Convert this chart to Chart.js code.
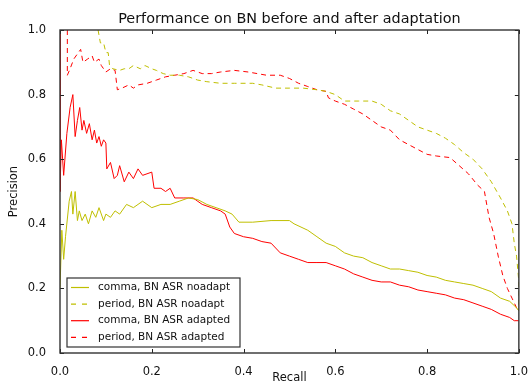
<!DOCTYPE html>
<html>
<head>
<meta charset="utf-8">
<script src="https://cdn.jsdelivr.net/npm/chart.js@4.4.0/dist/chart.umd.min.js"></script>
<style>
  html, body { margin: 0; padding: 0; background: #fff; }
</style>
</head>
<body>
<canvas id="myChart" width="532" height="385"></canvas>
<script>
// chart text
const chartTitle = "Performance on BN before and after adaptation";
const xLabel = "Recall";
const yLabel = "Precision";
const axisTicks = [0, 0.2, 0.4, 0.6, 0.8, 1.0];

// series: [recall, precision] pairs
const commaNoadapt = [
  [0, 0.20], [0.004, 0.38], [0.008, 0.29], [0.012, 0.36], [0.02, 0.47], [0.025, 0.50],
  [0.028, 0.43], [0.033, 0.50], [0.038, 0.41], [0.042, 0.44], [0.048, 0.41], [0.055, 0.43],
  [0.062, 0.40], [0.07, 0.44], [0.078, 0.42], [0.085, 0.45], [0.095, 0.41], [0.1, 0.43],
  [0.11, 0.42], [0.12, 0.44], [0.13, 0.43], [0.145, 0.46], [0.16, 0.45], [0.18, 0.47],
  [0.2, 0.45], [0.22, 0.46], [0.24, 0.46], [0.26, 0.47], [0.28, 0.48], [0.3, 0.475],
  [0.32, 0.46], [0.34, 0.45], [0.36, 0.44], [0.375, 0.43], [0.39, 0.405], [0.42, 0.405],
  [0.46, 0.41], [0.5, 0.41], [0.51, 0.40], [0.54, 0.38], [0.56, 0.36], [0.58, 0.34],
  [0.6, 0.33], [0.62, 0.31], [0.64, 0.30], [0.66, 0.295], [0.68, 0.28], [0.7, 0.27],
  [0.72, 0.26], [0.74, 0.26], [0.76, 0.255], [0.78, 0.25], [0.8, 0.24], [0.82, 0.235],
  [0.84, 0.225], [0.86, 0.22], [0.88, 0.215], [0.9, 0.21], [0.92, 0.20], [0.94, 0.19],
  [0.96, 0.17], [0.98, 0.16], [0.995, 0.14], [1.0, 0.13]
];

const periodNoadapt = [
  [0.083, 1.0], [0.088, 0.96], [0.095, 0.96], [0.1, 0.93], [0.105, 0.93], [0.108, 0.89],
  [0.115, 0.88], [0.13, 0.875], [0.14, 0.88], [0.15, 0.88], [0.16, 0.89], [0.175, 0.88],
  [0.185, 0.89], [0.2, 0.88], [0.21, 0.875], [0.225, 0.865], [0.24, 0.86], [0.26, 0.86],
  [0.28, 0.855], [0.3, 0.845], [0.32, 0.84], [0.35, 0.835], [0.38, 0.835], [0.42, 0.835],
  [0.44, 0.83], [0.47, 0.82], [0.5, 0.82], [0.53, 0.82], [0.56, 0.815], [0.58, 0.81],
  [0.6, 0.80], [0.62, 0.78], [0.65, 0.78], [0.68, 0.78], [0.7, 0.77], [0.72, 0.75],
  [0.74, 0.74], [0.76, 0.72], [0.78, 0.70], [0.8, 0.69], [0.82, 0.68], [0.84, 0.665],
  [0.86, 0.645], [0.88, 0.62], [0.9, 0.60], [0.92, 0.57], [0.94, 0.53], [0.96, 0.48],
  [0.975, 0.44], [0.985, 0.40], [0.99, 0.34], [0.995, 0.30], [1.0, 0.22], [1.0, 0.13]
];

const commaAdapted = [
  [0, 1.0], [0, 0.5], [0.003, 0.66], [0.008, 0.55], [0.015, 0.68], [0.022, 0.76],
  [0.028, 0.80], [0.033, 0.67], [0.038, 0.72], [0.043, 0.76], [0.048, 0.69], [0.052, 0.72],
  [0.058, 0.68], [0.064, 0.71], [0.07, 0.66], [0.075, 0.69], [0.08, 0.65], [0.085, 0.67],
  [0.09, 0.64], [0.095, 0.66], [0.1, 0.65], [0.102, 0.57], [0.11, 0.59], [0.118, 0.54],
  [0.125, 0.55], [0.13, 0.58], [0.14, 0.53], [0.15, 0.56], [0.16, 0.54], [0.17, 0.57],
  [0.18, 0.55], [0.2, 0.56], [0.205, 0.51], [0.22, 0.51], [0.23, 0.50], [0.24, 0.51],
  [0.25, 0.48], [0.27, 0.48], [0.29, 0.48], [0.31, 0.46], [0.33, 0.45], [0.35, 0.44],
  [0.36, 0.43], [0.37, 0.39], [0.38, 0.37], [0.4, 0.36], [0.42, 0.355], [0.44, 0.345],
  [0.46, 0.34], [0.48, 0.31], [0.5, 0.30], [0.52, 0.29], [0.54, 0.28], [0.56, 0.28],
  [0.58, 0.28], [0.6, 0.27], [0.62, 0.26], [0.64, 0.245], [0.66, 0.235], [0.68, 0.225],
  [0.7, 0.22], [0.72, 0.22], [0.74, 0.21], [0.76, 0.205], [0.78, 0.195], [0.8, 0.19],
  [0.82, 0.185], [0.84, 0.18], [0.86, 0.17], [0.88, 0.165], [0.9, 0.155], [0.92, 0.145],
  [0.94, 0.135], [0.96, 0.12], [0.98, 0.11], [0.99, 0.10], [1.0, 0.10]
];

const periodAdapted = [
  [0.016, 1.0], [0.016, 0.86], [0.022, 0.88], [0.03, 0.91], [0.04, 0.93], [0.045, 0.94],
  [0.05, 0.90], [0.06, 0.91], [0.07, 0.92], [0.075, 0.90], [0.085, 0.91], [0.09, 0.89],
  [0.1, 0.87], [0.11, 0.88], [0.12, 0.875], [0.125, 0.815], [0.135, 0.82], [0.15, 0.83],
  [0.16, 0.82], [0.17, 0.83], [0.19, 0.835], [0.21, 0.845], [0.23, 0.855], [0.25, 0.86],
  [0.27, 0.865], [0.29, 0.875], [0.31, 0.865], [0.33, 0.865], [0.35, 0.87], [0.38, 0.875],
  [0.41, 0.87], [0.43, 0.865], [0.45, 0.86], [0.48, 0.86], [0.5, 0.85], [0.52, 0.835],
  [0.54, 0.825], [0.56, 0.815], [0.58, 0.81], [0.585, 0.79], [0.6, 0.78], [0.62, 0.77],
  [0.64, 0.755], [0.66, 0.74], [0.68, 0.72], [0.7, 0.70], [0.72, 0.69], [0.74, 0.66],
  [0.76, 0.645], [0.78, 0.63], [0.8, 0.615], [0.82, 0.61], [0.85, 0.605], [0.87, 0.58],
  [0.89, 0.555], [0.91, 0.52], [0.925, 0.50], [0.935, 0.42], [0.945, 0.37], [0.955, 0.30],
  [0.965, 0.24], [0.975, 0.20], [0.985, 0.17], [0.995, 0.14], [1.0, 0.13]
];

const seriesNames = [
  "comma, BN ASR noadapt",
  "period, BN ASR noadapt",
  "comma, BN ASR adapted",
  "period, BN ASR adapted"
];

const olive = "#bfbf00";
const red = "#ff0000";
const dash = [5, 4];

const toPoints = (pairs) => pairs.map(p => ({ x: p[0], y: p[1] }));

function lineSet(label, pairs, color, dashed) {
  return {
    label: label,
    data: toPoints(pairs),
    borderColor: color,
    backgroundColor: color,
    borderWidth: 1,
    borderDash: dashed ? dash : [],
    pointRadius: 0,
    tension: 0,
    fill: false
  };
}

const font = "DejaVu Sans";

// frame, inward ticks, title, axis labels and the legend box
const decorations = {
  id: "decorations",
  afterDatasetsDraw(chart) {
    const ctx = chart.ctx;
    const a = chart.chartArea;
    const xs = chart.scales.x;
    const ys = chart.scales.y;
    ctx.save();

    // ticks pointing in, on all four sides
    ctx.strokeStyle = "#222";
    ctx.lineWidth = 1;
    ctx.beginPath();
    axisTicks.forEach(t => {
      const px = Math.round(xs.getPixelForValue(t)) + 0.5;
      ctx.moveTo(px, a.bottom); ctx.lineTo(px, a.bottom - 4);
      ctx.moveTo(px, a.top); ctx.lineTo(px, a.top + 4);
      const py = Math.round(ys.getPixelForValue(t)) + 0.5;
      ctx.moveTo(a.left, py); ctx.lineTo(a.left + 4, py);
      ctx.moveTo(a.right, py); ctx.lineTo(a.right - 4, py);
    });
    ctx.stroke();

    ctx.strokeStyle = "#333";
    ctx.lineWidth = 1.4;
    ctx.strokeRect(a.left, a.top, a.right - a.left, a.bottom - a.top);

    // title and axis labels
    ctx.fillStyle = "#111";
    ctx.textAlign = "center";
    ctx.textBaseline = "middle";
    ctx.font = "14.4px '" + font + "'";
    ctx.fillText(chartTitle, (a.left + a.right) / 2, 19);
    ctx.font = "11.5px '" + font + "'";
    ctx.fillText(xLabel, (a.left + a.right) / 2, 378);
    ctx.save();
    ctx.translate(14, (a.top + a.bottom) / 2);
    ctx.rotate(-Math.PI / 2);
    ctx.fillText(yLabel, 0, 0);
    ctx.restore();

    // legend
    const lx = 67, ly = 278, lw = 173, lh = 69;
    ctx.fillStyle = "#fff";
    ctx.fillRect(lx, ly, lw, lh);
    ctx.strokeStyle = "#333";
    ctx.lineWidth = 1.2;
    ctx.strokeRect(lx, ly, lw, lh);
    ctx.font = "10.5px '" + font + "'";
    ctx.textAlign = "left";
    chart.data.datasets.forEach((ds, i) => {
      const y = ly + 9.5 + i * 16.6;
      ctx.strokeStyle = ds.borderColor;
      ctx.lineWidth = 1.2;
      ctx.setLineDash(ds.borderDash.length ? [5, 6] : []);
      ctx.beginPath();
      ctx.moveTo(lx + 4, y);
      ctx.lineTo(lx + 22, y);
      ctx.stroke();
      ctx.setLineDash([]);
      ctx.fillStyle = "#111";
      ctx.fillText(ds.label, lx + 31, y);
    });
    ctx.restore();
  }
};

const tickFont = { family: font, size: 11.5 };

const config = {
  type: "line",
  data: {
    datasets: [
      lineSet(seriesNames[0], commaNoadapt, olive, false),
      lineSet(seriesNames[1], periodNoadapt, olive, true),
      lineSet(seriesNames[2], commaAdapted, red, false),
      lineSet(seriesNames[3], periodAdapted, red, true)
    ]
  },
  options: {
    responsive: false,
    animation: false,
    devicePixelRatio: 1,
    layout: { padding: { top: 30, right: 10, left: 0, bottom: 0 } },
    plugins: {
      legend: { display: false },
      title: { display: false },
      tooltip: { enabled: false }
    },
    scales: {
      x: {
        type: "linear",
        min: 0,
        max: 1,
        afterBuildTicks: (scale) => { scale.ticks = axisTicks.map(v => ({ value: v })); },
        ticks: {
          callback: (v) => Number(v).toFixed(1),
          font: tickFont,
          color: "#111",
          padding: 4,
          maxRotation: 0
        },
        grid: { display: false },
        border: { display: false },
        afterFit: (scale) => { scale.height = 32; }
      },
      y: {
        type: "linear",
        min: 0,
        max: 1,
        afterBuildTicks: (scale) => { scale.ticks = axisTicks.map(v => ({ value: v })); },
        ticks: {
          callback: (v) => Number(v).toFixed(1),
          font: tickFont,
          color: "#111",
          padding: 6
        },
        grid: { display: false },
        border: { display: false },
        afterFit: (scale) => { scale.width = 60; }
      }
    }
  },
  plugins: [decorations]
};

const myChart = new Chart(document.getElementById("myChart"), config);
</script>
</body>
</html>
